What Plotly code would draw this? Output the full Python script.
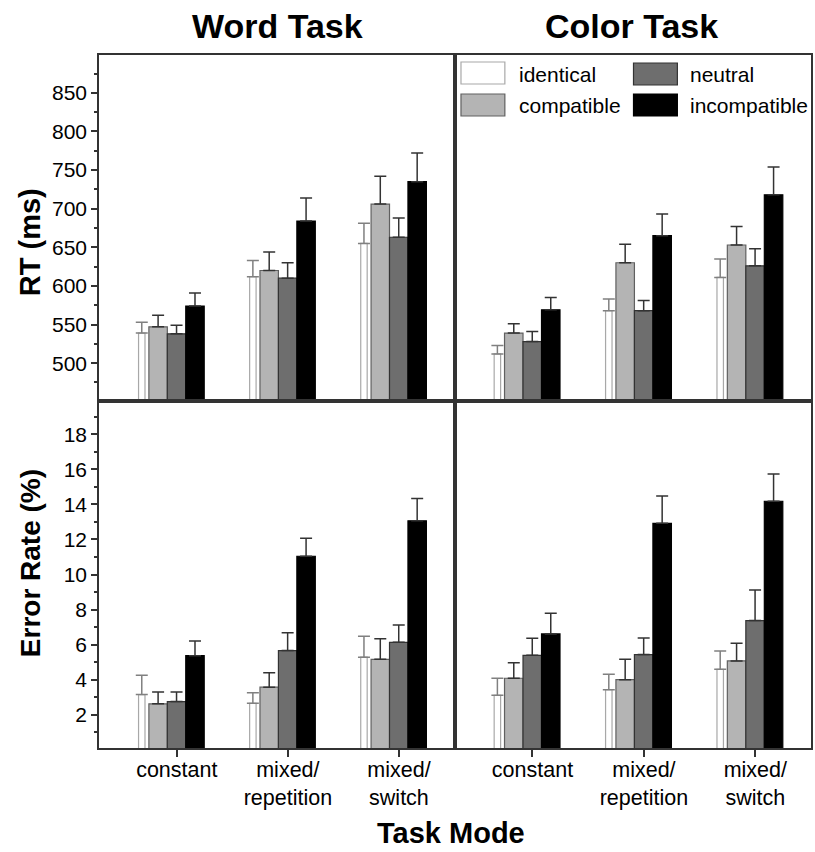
import plotly.graph_objects as go

# ---------------- data ----------------
modes = ["constant", "mixed/<br>repetition", "mixed/<br>switch"]
conditions = ["identical", "compatible", "neutral", "incompatible"]

# RT (ms) - Word Task
rt_word_identical = [539, 612, 655]
rt_word_compatible = [547, 620, 706]
rt_word_neutral = [538, 610, 663]
rt_word_incompatible = [574, 684, 735]
rt_word_identical_se = [14, 21, 26]
rt_word_compatible_se = [15, 24, 36]
rt_word_neutral_se = [11, 20, 25]
rt_word_incompatible_se = [17, 30, 37]

# RT (ms) - Color Task
rt_color_identical = [512, 568, 611]
rt_color_compatible = [539, 630, 653]
rt_color_neutral = [528, 568, 626]
rt_color_incompatible = [569, 665, 718]
rt_color_identical_se = [11, 15, 24]
rt_color_compatible_se = [12, 24, 24]
rt_color_neutral_se = [13, 13, 22]
rt_color_incompatible_se = [16, 28, 36]

# Error rate (%) - Word Task
er_word_identical = [3.15, 2.65, 5.28]
er_word_compatible = [2.62, 3.57, 5.16]
er_word_neutral = [2.75, 5.66, 6.13]
er_word_incompatible = [5.37, 11.04, 13.06]
er_word_identical_se = [1.10, 0.60, 1.20]
er_word_compatible_se = [0.68, 0.83, 1.18]
er_word_neutral_se = [0.55, 1.01, 0.99]
er_word_incompatible_se = [0.84, 1.03, 1.27]

# Error rate (%) - Color Task
er_color_identical = [3.11, 3.43, 4.59]
er_color_compatible = [4.08, 4.00, 5.07]
er_color_neutral = [5.39, 5.43, 7.37]
er_color_incompatible = [6.61, 12.92, 14.18]
er_color_identical_se = [0.97, 0.88, 1.05]
er_color_compatible_se = [0.88, 1.16, 1.01]
er_color_neutral_se = [0.97, 0.95, 1.75]
er_color_incompatible_se = [1.18, 1.56, 1.56]

rt_ticks = [500, 550, 600, 650, 700, 750, 800, 850]
er_ticks = [2, 4, 6, 8, 10, 12, 14, 16, 18]

# ---------------- styles ----------------
FONT = "Liberation Sans, Arial, sans-serif"
AX = "#333333"
style = {
    "identical":    dict(fill="#ffffff", line="#a8a8a8", err="#808080", off=-0.344, w=0.058),
    "compatible":   dict(fill="#b4b4b4", line="#606060", err="#333333", off=-0.251, w=0.166),
    "neutral":      dict(fill="#6e6e6e", line="#333333", err="#333333", off=-0.085, w=0.166),
    "incompatible": dict(fill="#000000", line="#000000", err="#333333", off=0.081, w=0.166),
}

panels = [
    ("x", "y", [rt_word_identical, rt_word_compatible, rt_word_neutral, rt_word_incompatible],
     [rt_word_identical_se, rt_word_compatible_se, rt_word_neutral_se, rt_word_incompatible_se]),
    ("x2", "y2", [rt_color_identical, rt_color_compatible, rt_color_neutral, rt_color_incompatible],
     [rt_color_identical_se, rt_color_compatible_se, rt_color_neutral_se, rt_color_incompatible_se]),
    ("x3", "y3", [er_word_identical, er_word_compatible, er_word_neutral, er_word_incompatible],
     [er_word_identical_se, er_word_compatible_se, er_word_neutral_se, er_word_incompatible_se]),
    ("x4", "y4", [er_color_identical, er_color_compatible, er_color_neutral, er_color_incompatible],
     [er_color_identical_se, er_color_compatible_se, er_color_neutral_se, er_color_incompatible_se]),
]

fig = go.Figure()
for xa, ya, vals, ses in panels:
    for cond, v, se in zip(conditions, vals, ses):
        s = style[cond]
        fig.add_trace(go.Bar(
            x=modes, y=v, name=cond, xaxis=xa, yaxis=ya,
            offset=s["off"], width=s["w"],
            marker=dict(color=s["fill"], line=dict(color=s["line"], width=1.2)),
            error_y=dict(type="data", symmetric=False, array=se, arrayminus=[0] * len(se),
                         color=s["err"], thickness=1.5, width=6),
            showlegend=False, hoverinfo="skip",
        ))

W, H = 815, 852
ML, MR, MT, MB = 99, 2, 55, 104
PW, PH = W - ML - MR, H - MT - MB


def px(x):
    return (x - ML) / PW


def py(y):
    return (H - MB - y) / PH


xr = [-0.7, 2.5]
common_x = dict(type="category", categoryorder="array", categoryarray=modes, range=xr,
                showline=True, linecolor=AX, linewidth=1.6, mirror=True, showgrid=False,
                zeroline=False)
common_y = dict(showline=True, linecolor=AX, linewidth=1.6, mirror=True, showgrid=False,
                zeroline=False)

xm = px(455.5)
ym = py(401)

fig.update_layout(
    width=W, height=H,
    margin=dict(l=ML, r=MR, t=MT, b=MB),
    paper_bgcolor="white", plot_bgcolor="white",
    barmode="overlay",
    font=dict(family=FONT, size=21, color="black"),
    xaxis=dict(domain=[0, xm], anchor="y", showticklabels=False, ticks="", **common_x),
    xaxis2=dict(domain=[xm, 1], anchor="y2", showticklabels=False, ticks="", **common_x),
    xaxis3=dict(domain=[0, xm], anchor="y3", ticks="outside", ticklen=7, tickwidth=1.5,
                tickcolor=AX, tickfont=dict(size=21.5, family=FONT), ticklabelstandoff=-6,
                **common_x),
    xaxis4=dict(domain=[xm, 1], anchor="y4", ticks="outside", ticklen=7, tickwidth=1.5,
                tickcolor=AX, tickfont=dict(size=21.5, family=FONT), ticklabelstandoff=-6,
                **common_x),
    yaxis=dict(domain=[ym, 1], anchor="x", range=[451, 899], tickvals=rt_ticks,
               ticks="outside", ticklen=6, tickwidth=1.5, tickcolor=AX,
               tickfont=dict(size=21, family=FONT),
               minor=dict(dtick=25, ticks="outside", ticklen=3, tickwidth=1.5, tickcolor=AX),
               **common_y),
    yaxis2=dict(domain=[ym, 1], anchor="x2", range=[451, 899], showticklabels=False, ticks="",
                **common_y),
    yaxis3=dict(domain=[0, ym], anchor="x3", range=[0.1, 19.9], tickvals=er_ticks,
                ticks="outside", ticklen=6, tickwidth=1.5, tickcolor=AX,
                tickfont=dict(size=21, family=FONT),
                minor=dict(dtick=1, ticks="outside", ticklen=3, tickwidth=1.5, tickcolor=AX),
                **common_y),
    yaxis4=dict(domain=[0, ym], anchor="x4", range=[0.1, 19.9], showticklabels=False, ticks="",
                **common_y),
)

annotations = [
    dict(text="<b>Word Task</b>", x=px(278), y=py(26), font=dict(size=34)),
    dict(text="<b>Color Task</b>", x=px(633), y=py(26), font=dict(size=34)),
    dict(text="<b>RT (ms)</b>", x=px(30), y=py(242), textangle=-90, font=dict(size=29)),
    dict(text="<b>Error Rate (%)</b>", x=px(30), y=py(563), textangle=-90, font=dict(size=28)),
    dict(text="<b>Task Mode</b>", x=px(452), y=py(833), font=dict(size=29)),
]
for a in annotations:
    a.update(xref="paper", yref="paper", showarrow=False, xanchor="center", yanchor="middle")
    a["font"].update(family=FONT, color="black")

# manual legend (swatch rectangles + labels) in the Color Task RT panel
legend_pos = {
    "identical": (462, 62, 518, 74),
    "compatible": (462, 94, 518, 105),
    "neutral": (635, 63, 690, 74),
    "incompatible": (635, 94, 690, 105),
}
shapes = []
for cond in conditions:
    x0, y0, tx, ty = legend_pos[cond]
    s = style[cond]
    shapes.append(dict(type="rect", xref="paper", yref="paper",
                       x0=px(x0), x1=px(x0 + 44), y0=py(y0), y1=py(y0 + 22),
                       fillcolor=s["fill"], line=dict(color=s["line"], width=1.2)))
    annotations.append(dict(text=cond, x=px(tx), y=py(ty), xref="paper", yref="paper",
                            showarrow=False, xanchor="left", yanchor="middle",
                            font=dict(family=FONT, size=21, color="black")))

fig.update_layout(annotations=annotations, shapes=shapes)
fig.write_html(
    "out.html",
    config={"displayModeBar": False},
    post_script="document.body.style.margin='0';document.body.style.overflow='hidden';",
)
